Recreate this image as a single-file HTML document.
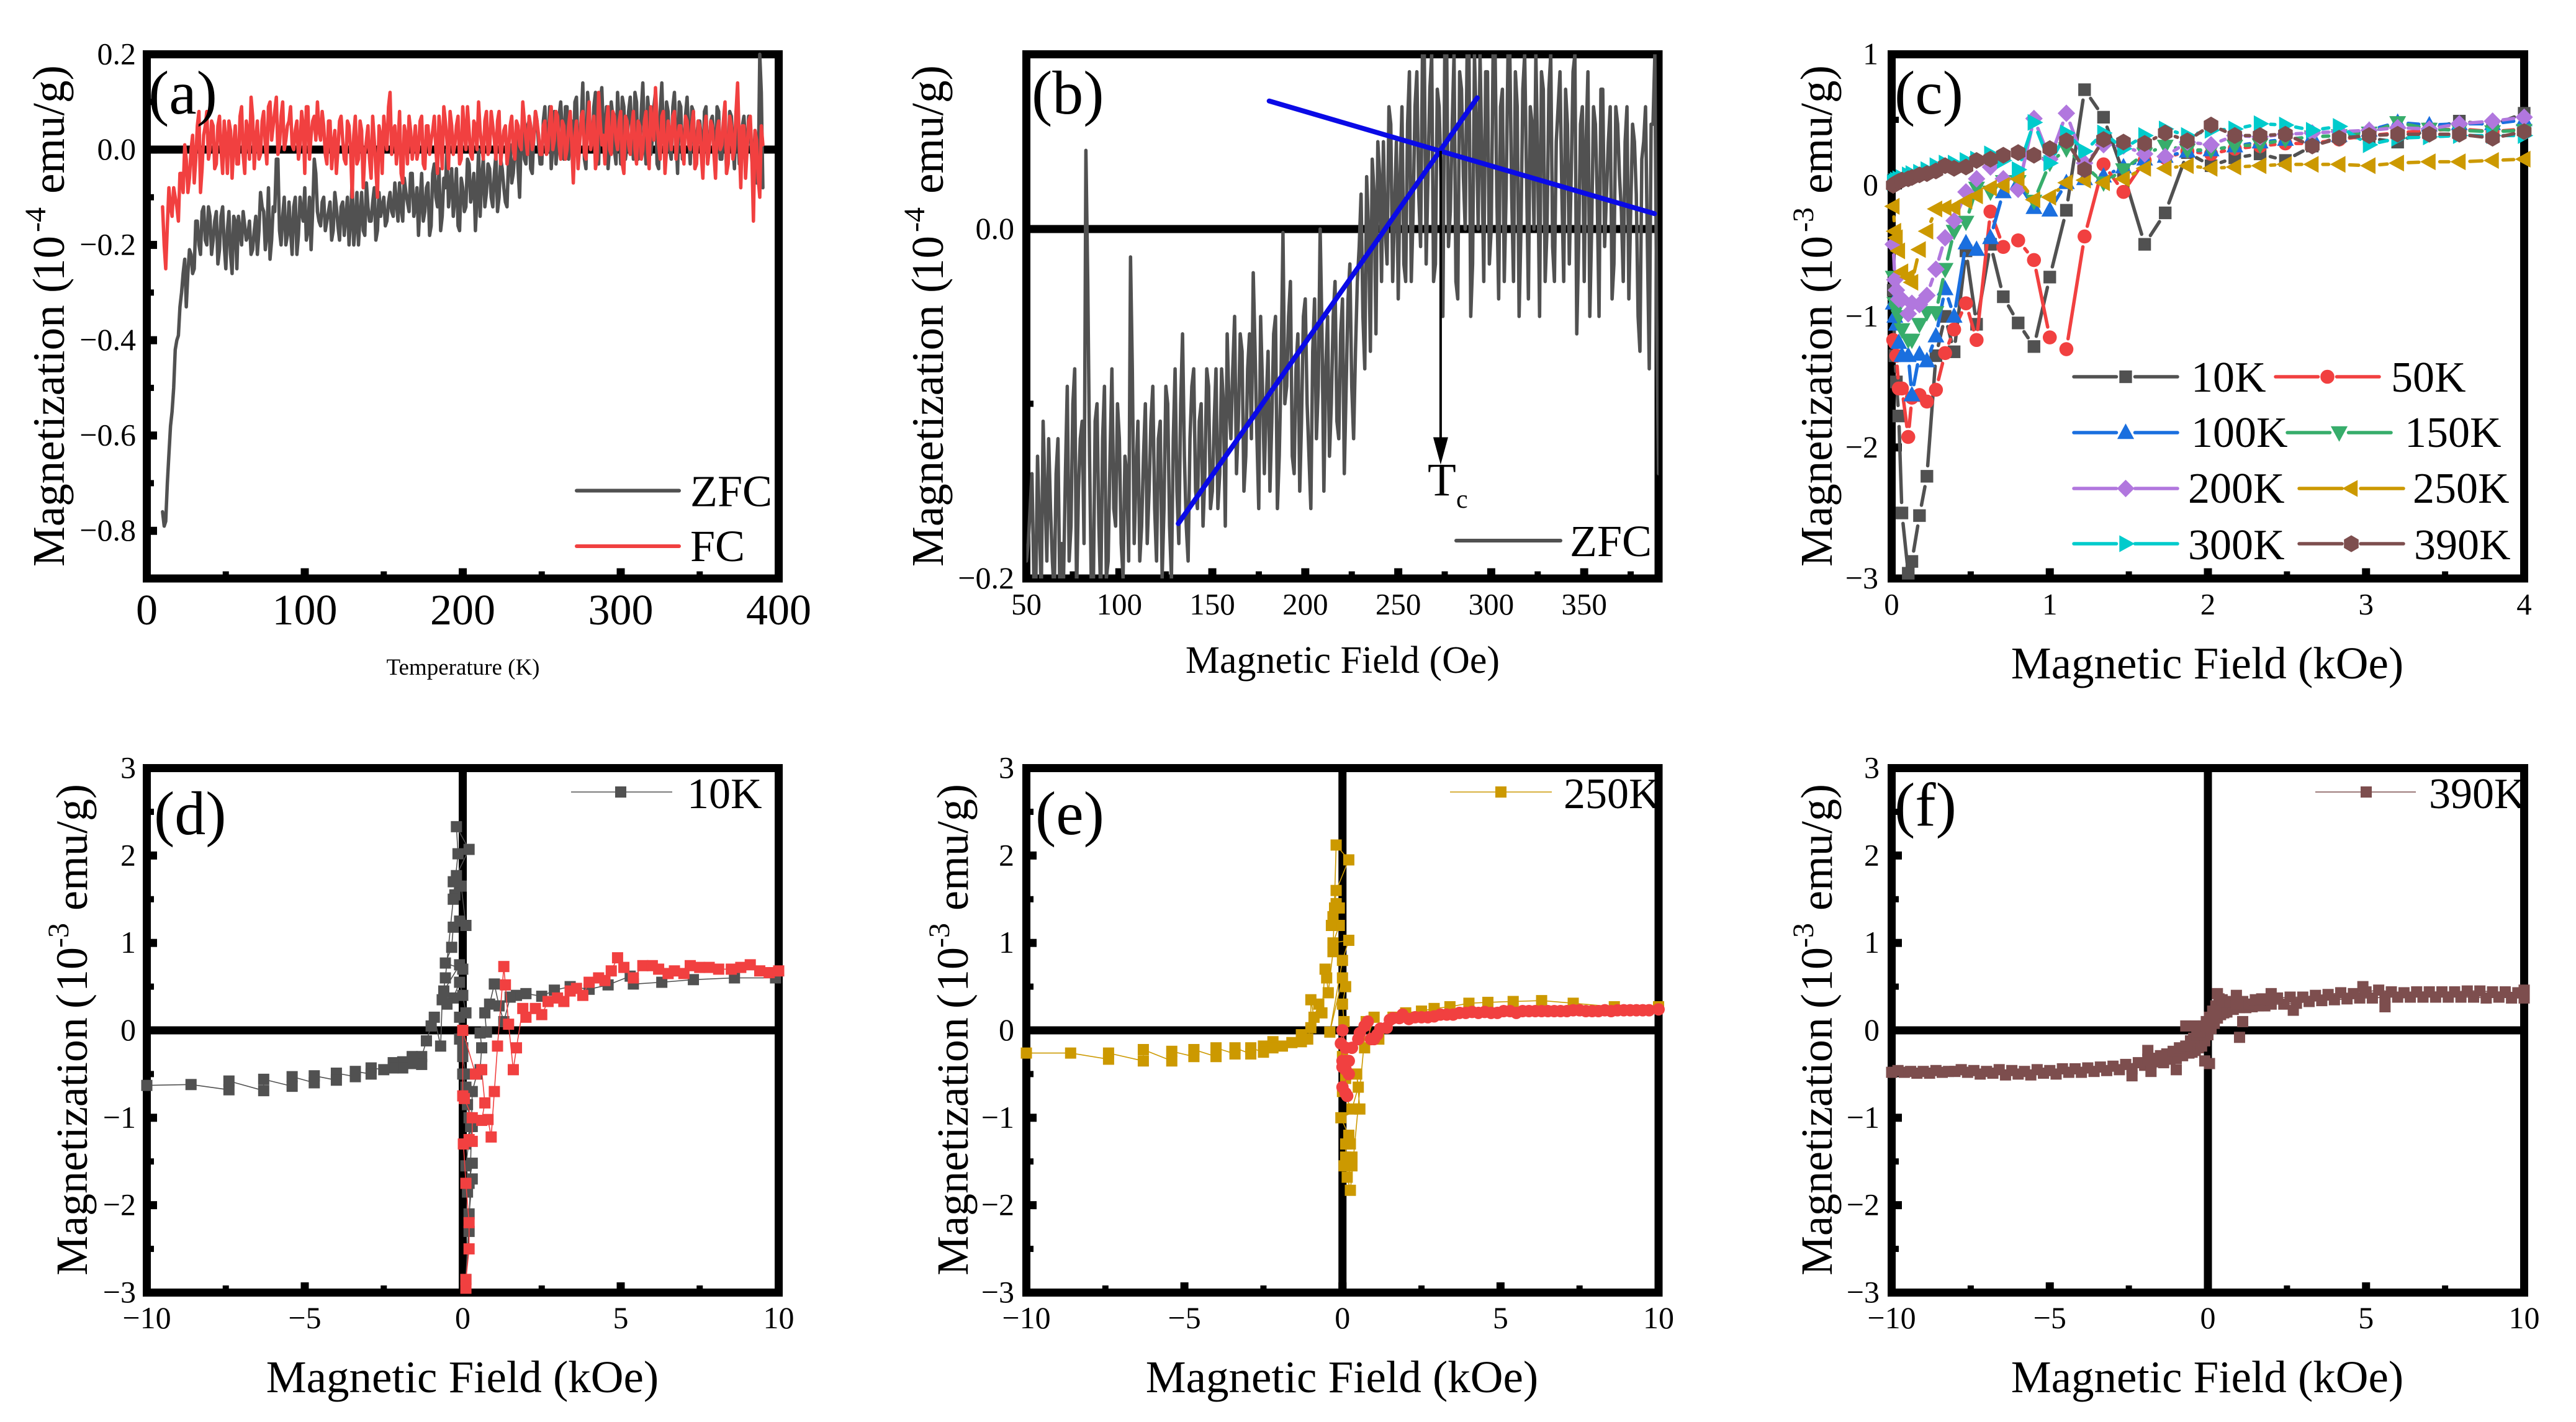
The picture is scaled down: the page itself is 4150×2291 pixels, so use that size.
<!DOCTYPE html>
<html lang="en">
<head>
<meta charset="utf-8">
<title>Magnetization measurements</title>
<style>
html,body{margin:0;padding:0;background:#fff;width:4150px;height:2291px;overflow:hidden}
svg{display:block}
text{font-family:"Liberation Serif","Times New Roman",serif;fill:#000}
</style>
</head>
<body>
<svg id="figure" xmlns="http://www.w3.org/2000/svg" width="4150" height="2291" viewBox="0 0 4150 2291">
<rect x="0" y="0" width="4150" height="2291" fill="#fff"/>
<defs>
<clipPath id="clip-b"><rect x="1653.5" y="87.5" width="1018.5" height="844.5"/></clipPath>
</defs>

<g id="panel-a"></g>
<g id="panel-b"></g>
<g id="panel-c"></g>
<g id="panel-d"></g>
<g id="panel-e"></g>
<g id="panel-f"></g>

<g>
<text x="239" y="183" font-size="100">(a)</text>
<text x="1662" y="183" font-size="100">(b)</text>
<text x="3052" y="183" font-size="100">(c)</text>
<text x="248" y="1344" font-size="100">(d)</text>
<text x="1668" y="1344" font-size="100">(e)</text>
<text x="3052" y="1330" font-size="100">(f)</text>

<text x="746" y="1087" font-size="37" text-anchor="middle">Temperature (K)</text>
<text x="2163" y="1084" font-size="62" text-anchor="middle">Magnetic Field (Oe)</text>
<text x="3556" y="1093" font-size="73" text-anchor="middle">Magnetic Field (kOe)</text>
<text x="745" y="2243" font-size="73" text-anchor="middle">Magnetic Field (kOe)</text>
<text x="2162" y="2243" font-size="73" text-anchor="middle">Magnetic Field (kOe)</text>
<text x="3556" y="2243" font-size="73" text-anchor="middle">Magnetic Field (kOe)</text>

<text transform="translate(103,913) rotate(-90)" font-size="73"><tspan x="0">Magnetization</tspan><tspan x="441">(</tspan><tspan x="460">10</tspan><tspan x="539" dy="-30" font-size="48">-4</tspan><tspan x="601" dy="30">emu/g)</tspan></text>
<text transform="translate(1519,913) rotate(-90)" font-size="73"><tspan x="0">Magnetization</tspan><tspan x="441">(</tspan><tspan x="460">10</tspan><tspan x="539" dy="-30" font-size="48">-4</tspan><tspan x="601" dy="30">emu/g)</tspan></text>
<text transform="translate(2951,913) rotate(-90)" font-size="73"><tspan x="0">Magnetization</tspan><tspan x="441">(</tspan><tspan x="460">10</tspan><tspan x="539" dy="-30" font-size="48">-3</tspan><tspan x="601" dy="30">emu/g)</tspan></text>
<text transform="translate(140,2055) rotate(-90)" font-size="72"><tspan x="0">Magnetization</tspan><tspan x="430">(</tspan><tspan x="457">10</tspan><tspan x="528" dy="-30" font-size="48">-3</tspan><tspan x="588" dy="30">emu/g)</tspan></text>
<text transform="translate(1559,2055) rotate(-90)" font-size="72"><tspan x="0">Magnetization</tspan><tspan x="430">(</tspan><tspan x="457">10</tspan><tspan x="528" dy="-30" font-size="48">-3</tspan><tspan x="588" dy="30">emu/g)</tspan></text>
<text transform="translate(2951,2055) rotate(-90)" font-size="72"><tspan x="0">Magnetization</tspan><tspan x="430">(</tspan><tspan x="457">10</tspan><tspan x="528" dy="-30" font-size="48">-3</tspan><tspan x="588" dy="30">emu/g)</tspan></text>
</g>

<g>
<text x="2300" y="798" font-size="75">T</text>
<text x="2346" y="818" font-size="42">c</text>
</g>
</svg>

<script>
/* ---------- panel (a): ZFC / FC temperature sweeps (1 K spacing, even and odd K readings) ---------- */
const aTempStart = 10;
const aTempStep = 1;
const aZfcEven = [
-.76,-.78,-.64,-.55,-.42,-.39,-.30,-.23,-.26,-.22,
-.25,-.15,-.22,-.12,-.20,-.14,-.19,-.13,-.21,-.12,
-.25,-.13,-.26,-.15,-.14,-.20,-.16,-.18,-.22,-.17,
-.22,-.09,-.13,-.18,-.23,-.12,-.02,-.17,-.14,-.20,
-.11,-.22,-.10,-.18,-.13,-.08,-.17,-.21,-.02,-.13,
-.16,-.10,-.15,-.11,-.17,-.12,-.19,-.11,-.14,-.20,
-.06,-.16,-.20,-.09,-.18,-.12,-.15,-.08,-.17,-.14,
-.10,-.15,-.09,-.14,-.11,-.07,-.15,-.09,-.13,-.05,
-.12,-.18,-.05,-.13,-.07,-.16,-.03,-.12,-.17,-.06,
0,-.08,-.14,-.04,-.17,-.08,-.12,-.03,-.09,-.17,
0,-.06,-.12,-.03,-.10,-.05,-.13,-.02,-.08,-.12,
.01,-.05,.03,-.10,.04,-.03,.06,-.05,.08,.01,
-.03,.09,.02,-.04,.08,.01,.10,-.02,.09,.03,
-.03,.11,.02,.14,-.04,.08,.01,.12,-.03,.13,
.02,-.04,.10,0,.12,-.03,.09,.01,.11,-.02,
.10,0,.14,-.03,.07,.02,.12,-.04,.14,.01,
.08,-.02,.12,-.05,.09,0,.11,-.03,.08,.02,
.06,-.04,.09,.01,.07,-.05,.08,-.02,.06,0,
.07,-.04,.06,-.02,.07,0,.04,-.05,-.07,.20,
-.08
];
const aZfcOdd = [
-.79,-.70,-.58,-.50,-.40,-.33,-.26,-.33,-.21,-.26,
-.15,-.20,-.13,-.19,-.12,-.22,-.15,-.24,-.14,-.20,
-.17,-.22,-.14,-.25,-.17,-.13,-.19,-.15,-.21,-.14,
-.17,-.12,-.21,-.08,-.19,-.13,-.02,-.20,-.10,-.18,
-.17,-.12,-.22,-.10,-.15,-.19,-.10,-.13,-.05,-.15,
-.11,-.17,-.13,-.19,-.09,-.16,-.12,-.18,-.10,-.15,
-.20,-.09,-.14,-.17,-.07,-.15,-.11,-.19,-.09,-.12,
-.16,-.11,-.13,-.07,-.15,-.12,-.06,-.11,-.05,-.14,
-.08,-.11,-.15,-.08,-.18,-.05,-.10,-.04,-.14,-.08,
-.12,-.04,-.10,-.16,-.06,-.13,-.02,-.11,-.05,-.10,
-.14,-.02,-.09,-.04,-.12,-.01,-.10,-.04,-.11,-.02,
-.07,0,-.04,.03,-.02,.05,-.04,.03,.06,-.03,
.06,0,.09,.01,-.03,.07,.04,.09,-.02,.06,
.10,0,.06,-.02,.12,.02,.09,-.02,.10,.04,
.09,.01,.07,-.03,.05,.11,-.02,.08,.04,.12,
-.02,.08,.03,.11,-.01,.09,-.03,.08,.03,.10,
0,.09,.03,.10,-.02,.07,.03,.09,-.04,.06,
.02,.08,-.03,.06,.02,.09,-.02,.05,-.05,.08,
.01,.08,-.03,.05,.01,.07,-.02,.04,-.07,.12
];
const aFcEven = [
-.12,-.25,-.08,-.14,-.10,-.15,-.05,.01,-.09,0,
-.07,.05,-.09,.03,.08,0,.05,-.03,.07,-.05,
.02,.06,-.06,.05,-.03,.09,-.05,.04,.11,-.04,
.06,-.01,.08,-.03,.10,.05,.11,.01,.10,.02,
.06,.01,.04,-.02,.08,-.05,.09,.03,.07,.10,
.02,.05,-.03,.06,.01,-.05,.06,.02,-.03,.05,
-.10,.07,-.02,.04,-.01,.05,-.06,.02,-.10,.03,
.07,0,.12,.04,-.03,.08,-.07,.03,.07,-.02,
.05,0,.07,-.04,.05,.02,.07,-.05,.03,.09,
.02,.08,-.01,.05,-.03,.09,0,.04,-.02,.05,
.10,.01,.06,-.01,.08,.02,.06,-.03,.04,-.03,
.05,0,.06,.01,.10,.02,.07,0,.08,.03,
-.01,.06,0,.09,.02,.07,-.02,.05,0,.08,
-.07,.06,.01,.08,-.02,.10,.03,-.04,.12,.01,
-.03,.09,-.01,.07,0,.08,-.05,.06,-.01,.08,
-.03,.05,0,.08,-.04,.05,.13,.01,.07,-.05,
.06,0,.08,.02,.05,-.03,.06,0,.08,-.03,
.05,-.06,.07,0,.05,-.06,.06,.01,.10,-.03,
.05,0,.14,-.08,.05,0,.07,-.15,.02,-.10,
.01
];
const aFcOdd = [
-.20,-.16,-.12,-.08,-.12,-.05,-.09,-.02,-.06,.03,
-.02,.08,-.04,.05,-.02,.06,-.04,.05,0,.06,
-.05,.04,.01,-.03,.07,-.01,.06,-.02,.07,.02,
-.02,.06,.01,.09,.02,.08,-.01,.07,0,.05,
.09,0,.06,.01,.05,.09,-.02,.06,.02,.04,
.08,-.01,.06,-.04,.04,0,.07,-.02,.06,0,
.03,-.03,.06,-.08,.02,-.02,.07,-.04,.05,-.05,
.03,.09,-.01,.05,.01,-.05,.05,-.03,.04,.01,
-.02,.06,-.03,.05,-.01,.04,0,.07,-.04,.06,
-.04,.05,.01,.07,-.02,.04,.09,-.01,.06,0,
.04,-.02,.08,0,.05,-.02,.08,.01,.05,0,
.07,-.02,.05,0,.06,-.01,.05,.02,.06,-.01,
.05,-.01,.06,0,.08,.01,.06,-.02,.05,.01,
.03,-.04,.07,-.01,.05,0,.07,-.02,.06,.03,
.05,0,.08,.02,.06,-.03,.07,.01,.05,0,
.06,-.02,.06,0,.09,.02,.06,-.02,.08,0,
.04,.07,-.02,.05,0,.07,.01,.05,-.04,.06,
-.01,.04,-.03,.06,-.01,.04,0,.06,-.05,.07,
-.02,.08,.02,.05,-.06,.06,-.01,.04,-.06,.05
];
const aXTicks = [0,100,200,300,400];
const aXMinor = [50,150,250,350];
const aYTicks = [-0.8,-0.6,-0.4,-0.2,0,0.2];
const aYMinor = [-0.7,-0.5,-0.3,-0.1,0.1];

/* ---------- panel (b): ZFC close-up with Tc construction ---------- */
const bFieldStart = 50;
const bFieldStep = 1;
const bZfcEven = [
-.19,-.16,-.20,-.13,-.21,-.15,-.12,-.19,-.14,-.21,
-.20,-.09,-.17,-.08,-.15,-.11,.045,-.13,-.21,-.10,
-.21,-.09,-.19,-.08,-.17,-.12,-.20,-.14,-.016,-.18,
-.11,-.17,-.10,-.15,-.09,-.19,-.11,-.16,-.10,-.20,
-.08,-.18,-.06,-.17,-.12,-.08,-.16,-.10,-.14,-.09,
-.15,-.08,-.14,-.10,-.06,-.12,-.05,-.11,-.07,-.13,
-.06,-.025,-.12,-.05,-.14,-.07,-.11,-.05,-.13,-.002,
-.09,-.03,-.14,-.06,-.11,-.04,-.13,-.07,-.12,0,
-.15,-.05,-.10,-.03,-.12,-.04,-.09,-.02,-.12,-.03,
.02,-.08,0,.04,-.06,.03,.05,-.02,.06,.01,
-.04,.07,-.03,.09,.01,.09,-.01,.10,.03,.10,
-.02,.07,-.05,.11,.01,.10,-.04,.08,0,.11,
-.02,.06,.10,-.03,.09,0,.11,-.04,.08,.02,
.10,-.03,.07,0,.10,-.04,.06,.10,-.05,.08,
0,.10,-.03,.07,.02,.08,-.02,.09,-.06,.06,
-.03,.09,0,.06,-.05,.08,.02,.07,-.02,.06,
.01,.05,-.04,.06,.02,-.07,.05,-.01,.06,.10,
-.14
];
const bZfcOdd = [
-.18,-.14,-.21,-.17,-.11,-.19,-.16,-.21,-.12,-.18,
-.14,-.19,-.10,-.21,-.12,-.18,-.03,-.21,-.11,-.17,
-.12,-.20,-.13,-.16,-.10,-.18,-.13,-.19,-.08,-.14,
-.19,-.13,-.18,-.11,-.16,-.12,-.20,-.09,-.17,-.12,
-.15,-.10,-.13,-.19,-.09,-.15,-.11,-.17,-.08,-.16,
-.11,-.16,-.08,-.17,-.10,-.08,-.14,-.06,-.15,-.08,
-.12,-.07,-.16,-.09,-.10,-.15,-.06,-.16,-.08,-.10,
-.05,-.13,-.08,-.15,-.05,-.10,-.16,-.04,-.09,-.06,
-.08,-.13,-.05,-.11,-.06,-.14,-.04,-.09,-.07,-.01,
-.05,.03,-.07,.02,.05,-.03,0,.07,-.03,.05,
.03,-.02,.06,-.03,.07,.02,.10,-.02,.08,-.03,
.08,.03,.10,-.01,.06,-.03,.09,.03,.10,-.05,
.10,0,.04,.09,-.02,.10,.02,.07,-.03,.10,
.02,.09,-.05,.08,.03,.07,0,.04,.09,-.03,
.08,-.01,.05,.09,-.03,.06,.03,.10,-.01,.07,
.05,-.05,.07,.02,.08,-.01,.05,-.04,.07,.03,
-.03,.07,.01,.05,-.05,.04,.07,-.08,.06,-.05
];
const bFitLowX = [131.7,292.5];
const bFitLowY = [-0.1686,0.0751];
const bFitHighX = [180.6,387.8];
const bFitHighY = [0.0733,0.0088];
const bTc = 272.8;
const bArrowStart = 0.0447;
const bArrowTip = -0.1348;
const bXTicks = [50,100,150,200,250,300,350];
const bXMinor = [75,125,175,225,275,325,375];
const bYTicks = [-0.2,0];
const bYMinor = [-0.1];

/* ---------- panel (c): low-field M(H) at eight temperatures ---------- */
const cField = [.01,.02,.03,.045,.065,.105,.128,.176,.223,.28,.338,.395,.47,.537,.625,.706,.80,.90,1.0,1.105,1.22,1.34,1.466,1.6,1.73,1.87,2.02,2.17,2.33,2.49,2.66,2.83,3.02,3.2,3.4,3.59,3.8,4.0];
const c10K = [-.8,-1.3,-1.5,-1.76,-2.5,-2.96,-2.87,-2.52,-2.22,-1.3,-1.0,-1.27,-.5,-1.06,-.45,-.85,-1.05,-1.23,-.7,-.19,.73,.52,.09,-.45,-.21,.25,.15,.21,.24,.19,.3,.37,.36,.33,.43,.49,.46,.55];
const c50K = [-1.18,-1.2,-1.3,-1.55,-1.55,-1.92,-1.62,-1.6,-1.65,-1.56,-1.28,-1.1,-.9,-1.18,-.2,-.47,-.42,-.57,-1.16,-1.25,-.39,.16,-.05,.19,.21,.26,.24,.28,.3,.32,.32,.35,.38,.4,.42,.43,.41,.43];
const c100K = [-.9,-1.0,-1.06,-1.2,-1.3,-1.3,-1.6,-1.29,-1.34,-1.15,-.79,-1.0,-.44,-.49,-.4,-.05,.02,-.17,-.19,.02,.05,.07,.14,.2,.22,.26,.27,.3,.33,.35,.37,.38,.42,.48,.46,.47,.47,.5];
const c150K = [-.7,-.9,-.95,-1.0,-1.1,-1.18,-1.18,-1.06,-.97,-.97,-.64,-.35,-.28,-.02,-.05,.03,.03,-.12,.17,.28,.15,.02,.12,.24,.3,.27,.27,.3,.31,.35,.37,.38,.4,.48,.43,.42,.41,.42];
const c200K = [-.45,-.72,-.8,-.87,-.87,-.98,-.9,-.91,-.84,-.64,-.4,-.27,-.05,.05,.14,.05,-.03,.51,.2,.55,.17,.31,.3,.24,.22,.33,.31,.38,.37,.39,.4,.41,.42,.44,.43,.47,.49,.52];
const c250K = [-.16,-.35,-.4,-.5,-.66,-.7,-.74,-.49,-.35,-.18,-.17,-.17,-.12,-.08,-.02,0,.05,-.11,-.09,.02,.04,.02,.05,.13,.13,.15,.13,.14,.15,.16,.16,.16,.15,.17,.18,.18,.19,.2];
const c300K = [.02,.03,.04,.05,.06,.08,.09,.1,.12,.15,.17,.17,.19,.2,.24,.19,.12,.48,.17,.4,.26,.4,.28,.38,.43,.38,.42,.43,.47,.46,.42,.45,.31,.36,.37,.38,.38,.38];
const c390K = [0,.01,.02,.03,.04,.05,.06,.08,.09,.11,.15,.13,.14,.19,.2,.23,.25,.23,.28,.34,.12,.35,.33,.32,.4,.34,.46,.38,.38,.39,.3,.36,.38,.39,.39,.39,.36,.41];
const cXTicks = [0,1,2,3,4];
const cXMinor = [.5,1.5,2.5,3.5];
const cYTicks = [-3,-2,-1,0,1];
const cYMinor = [-2.5,-1.5,-.5,.5];

/* ---------- panels (d)-(f): full hysteresis loops ---------- */
const hXTicks = [-10,-5,0,5,10];
const hXMinor = [-7.5,-2.5,2.5,7.5];
const hYTicks = [-3,-2,-1,0,1,2,3];
const hYMinor = [-2.5,-1.5,-.5,.5,1.5,2.5];

const dGrayField = [9.9,8.6,7.3,6.3,5.4,5.3,4.6,4,3.4,2.9,2.5,2,1.7,1.5,1.3,1.15,1,.85,.7,.75,.55,.6,.55,.45,.3,.2,.1,.2,.3,.15,.3,.2,.1,.25,.1,.3,.2,.15,.1,0,.1,0,0,-.1,-.1,.1,0,-.1,-.3,-.5,-.6,-.1,0,-.55,-.35,-.3,-.1,.1,-.05,-.25,-.2,-.3,.2,-.2,-.15,-.3,-.55,-.65,-.7,-.9,-1,-1.15,-1.3,-1.3,-1.6,-1.6,-1.9,-1.9,-2.2,-2.2,-2.5,-2.9,-2.9,-3.4,-3.4,-4,-4,-4.7,-4.7,-5.4,-5.4,-6.3,-6.3,-7.4,-7.4,-8.6,-10];
const dGrayMoment = [.6,.6,.58,.55,.53,.62,.52,.47,.5,.46,.39,.42,.4,.38,.1,.28,.53,.3,.2,-.02,-.03,-.2,-.45,-.5,-.7,-2.3,-2.85,-2.1,-1.7,-1.85,-1.52,-1.75,-1.55,-1.1,-1.3,-1.1,-1,-.85,-.65,-.5,-.5,-.3,-.2,-.1,.15,.2,.4,.55,.37,.3,.45,.75,.7,.77,.95,1.18,1.25,1.2,1.65,1.55,1.77,1.7,2.07,2.33,2.02,1.5,.6,.35,-.18,.15,.05,-.12,-.3,-.39,-.3,-.38,-.36,-.43,-.37,-.43,-.45,-.43,-.5,-.47,-.53,-.49,-.57,-.52,-.6,-.53,-.64,-.56,-.69,-.58,-.68,-.62,-.63];
const dRedField = [.1,.1,.2,.2,.1,.02,.2,.3,.3,.05,0,0,.4,.6,.7,.6,.8,.9,1.0,1.1,1.3,1.35,1.45,1.6,1.7,1.9,2.0,2.3,2.5,2.7,3.0,3.2,3.4,3.6,3.8,4.0,4.3,4.5,4.7,4.9,5.1,5.4,5.7,6,6.2,6.5,6.7,7,7.2,7.5,7.8,8.1,8.5,8.8,9.1,9.4,9.7,10];
const dRedMoment = [-2.95,-2.85,-2.5,-2.2,-1.75,-1.3,-1.25,-1.27,-1,-.78,-.75,0,-.5,-.45,-.83,-1.03,-1.02,-1.22,-.7,-.18,.73,.52,.07,-.45,-.2,.25,.15,.25,.18,.33,.37,.33,.45,.48,.4,.55,.6,.57,.68,.83,.72,.6,.74,.74,.7,.65,.68,.65,.74,.72,.72,.7,.7,.72,.75,.68,.66,.68];

const eGoldField = [10,8.6,7.3,6.3,5.4,4.6,4,3.4,2.9,2.5,2,1.6,1.15,.7,1,.75,.25,.15,.3,.05,.3,.1,.1,.25,.2,-.05,.55,.45,.5,.3,0,.1,0,.05,0,.1,0,-.4,0,.2,-.3,-.1,-.35,-.3,-.1,-.2,-.25,-.2,.2,-.2,-.3,-.45,-.5,-.55,-.65,-.75,-.9,-1,-1,-1.1,-1.3,-1.3,-1.6,-1.9,-2.2,-2.2,-2.5,-2.5,-2.9,-2.9,-3.4,-3.4,-4,-4,-4.7,-4.7,-5.4,-5.4,-6.3,-6.3,-7.4,-7.4,-8.6,-10];
const eGoldMoment = [.27,.27,.31,.34,.33,.32,.31,.27,.25,.22,.2,.15,-.1,-.2,.15,.1,-1.83,-1.68,-1.55,-1.55,-1.45,-1.45,-1.3,-1.3,-1.2,-1,-.9,-.5,-.65,-.9,-.7,-.55,-.3,.1,.3,.5,.6,-.02,.8,1.03,1,1.2,1.2,1.3,1.4,1.45,1.4,1.6,1.95,2.12,.9,.43,.6,.7,.2,.3,.15,.35,.03,-.1,-.05,-.13,-.14,-.18,-.13,-.2,-.18,-.25,-.2,-.27,-.2,-.27,-.2,-.3,-.22,-.3,-.24,-.35,-.22,-.35,-.26,-.33,-.26,-.26];
const eRedField = [.15,.1,0,.2,.1,0,.2,.1,0,-.05,0,.1,.3,.5,.55,.7,.8,.9,1.0,1.1,1.2,1.4,1.5,1.6,1.8,1.9,2.1,2.3,2.5,2.7,2.9,3.1,3.3,3.5,3.7,3.9,4.1,4.3,4.5,4.7,4.9,5.1,5.3,5.5,5.7,5.9,6.1,6.3,6.5,6.7,6.9,7.1,7.3,7.5,7.7,7.9,8.1,8.3,8.5,8.7,8.9,9.1,9.3,9.5,9.7,10];
const eRedMoment = [-.75,-.72,-.65,-.5,-.45,-.42,-.35,-.35,-.35,-.15,0,-.2,-.2,-.1,-.03,.05,.1,-.1,-.1,-.05,.02,.03,.12,.14,.14,.18,.13,.15,.15,.15,.16,.18,.18,.18,.2,.2,.21,.2,.21,.2,.2,.22,.22,.2,.22,.22,.22,.22,.22,.22,.22,.22,.23,.23,.22,.22,.22,.23,.22,.23,.23,.23,.23,.23,.23,.24];

const fFieldUp = [-10,-9.6,-9.2,-8.8,-8.4,-8,-7.6,-7.2,-6.8,-6.4,-6,-5.6,-5.2,-4.8,-4.4,-4,-3.6,-3.2,-2.8,-2.4,-2,-1.8,-1.6,-1.4,-1.2,-1,-.8,-.6,-.5,-.4,-.3,-.2,-.1,0,.1,.2,.3,.4,.5,.6,.8,1,1.2,1.4,1.6,1.8,2,2.4,2.8,3.2,3.6,4,4.4,4.8,5.2,5.6,6,6.4,6.8,7.2,7.6,8,8.4,8.8,9.2,9.6,10];
const fMomentUp = [-.48,-.48,-.49,-.49,-.48,-.47,-.48,-.50,-.49,-.51,-.50,-.51,-.49,-.50,-.48,-.48,-.47,-.46,-.45,-.44,-.40,-.38,-.36,-.37,-.33,-.32,-.29,-.26,-.25,-.23,-.20,-.18,-.12,-.05,.02,.08,.14,.18,.20,.21,.24,.26,.26,.27,.28,.28,.30,.30,.31,.33,.34,.35,.36,.37,.37,.38,.38,.38,.38,.38,.38,.38,.38,.37,.38,.37,.37];
const fFieldDown = [-9.8,-9.4,-9,-8.6,-8.2,-7.8,-7.4,-7,-6.6,-6.2,-5.8,-5.4,-5,-4.6,-4.2,-3.8,-3.4,-3,-2.6,-2.2,-1.9,-1.7,-1.5,-1.3,-1.1,-.9,-.7,-.55,-.45,-.35,-.25,-.15,-.05,.05,.15,.25,.35,.45,.55,.7,.9,1.1,1.3,1.5,1.7,1.9,2.2,2.6,3,3.4,3.8,4.2,4.6,5,5.4,5.8,6.2,6.6,7,7.4,7.8,8.2,8.6,9,9.4,9.8,10];
const fMomentDown = [-.46,-.47,-.47,-.46,-.47,-.45,-.46,-.47,-.45,-.46,-.47,-.45,-.46,-.44,-.44,-.43,-.42,-.41,-.39,-.37,-.33,-.32,-.29,-.27,-.24,-.20,-.18,-.12,-.09,-.05,-.02,.05,.10,.15,.22,.28,.36,.35,.32,.33,.30,.33,.30,.35,.36,.35,.37,.38,.38,.40,.41,.43,.42,.44,.46,.44,.43,.44,.44,.44,.44,.45,.45,.44,.44,.43,.46];
const fOutlierField = [-2.4,-1.9,-1.8,-1,-.7,-.4,-.1,.05,.3,.9,1.1,1.0,2,2.7,4.9,5.6];
const fOutlierMoment = [-.52,-.23,-.47,-.45,.05,.05,-.35,-.38,.42,.4,.1,-.08,.42,.23,.5,.27];

/* ---------- palette ---------- */
const GRAY='#515151',RED='#f14040',BLUE='#1a6fdf',GREEN='#37ad6b',PURPLE='#b177de',GOLD='#cc9900',CYAN='#00cbcc',BROWN='#7d4e4e';

/* ---------- helpers ---------- */
const NS='http://www.w3.org/2000/svg';
function mk(parent,tag,attrs,name){
  const el=document.createElementNS(NS,tag);
  for(const k in attrs){el.setAttribute(k,attrs[k]);}
  
  
  parent.appendChild(el);
  return el;
}
function scale(d0,d1,r0,r1){return v=>r0+(v-d0)*(r1-r0)/(d1-d0);}
function interleave(even,odd){
  const out=[];
  even.forEach((v,i)=>{
    out.push(v);
    if(i<odd.length){out.push(odd[i]);}
  });
  return out;
}
function fmt(v,dec){
  const s=Math.abs(v).toFixed(dec);
  return (v<0?'\u2212':'')+s;
}
function axes(g,box,x,y,o){
  const hw=6.5;
  const axis=mk(g,'g',{},o.id+'-axes');
  mk(axis,'rect',{x:box.l,y:box.t,width:box.r-box.l,height:box.b-box.t,fill:'none',stroke:'#000','stroke-width':13},o.id+'-frame');
  o.xMajor.forEach(v=>{
    mk(axis,'rect',{x:x(v)-6.5,y:box.b-hw-10,width:13,height:10,fill:'#000'},o.id+'-x-major-tick');
  });
  o.xMinor.forEach(v=>{
    mk(axis,'rect',{x:x(v)-5,y:box.b-hw-5,width:10,height:5,fill:'#000'},o.id+'-x-minor-tick');
  });
  o.yMajor.forEach(v=>{
    mk(axis,'rect',{x:box.l+hw,y:y(v)-6.5,width:10,height:13,fill:'#000'},o.id+'-y-major-tick');
  });
  o.yMinor.forEach(v=>{
    mk(axis,'rect',{x:box.l+hw,y:y(v)-5,width:5,height:10,fill:'#000'},o.id+'-y-minor-tick');
  });
  o.xMajor.forEach(v=>{
    const t=mk(axis,'text',{x:x(v),y:o.xBase,'font-size':o.xSize,'text-anchor':'middle'},o.id+'-x-tick-label');
    t.textContent=fmt(v,0);
  });
  o.yMajor.forEach(v=>{
    const t=mk(axis,'text',{x:o.yRight,y:y(v)+16,'font-size':50,'text-anchor':'end'},o.id+'-y-tick-label');
    t.textContent=fmt(v,o.yDec);
  });
  if(o.zeroY){
    mk(axis,'line',{x1:box.l,x2:box.r,y1:y(0),y2:y(0),stroke:'#000','stroke-width':13},o.id+'-zero-line-horizontal');
  }
  if(o.zeroX){
    mk(axis,'line',{x1:x(0),x2:x(0),y1:box.t,y2:box.b,stroke:'#000','stroke-width':13},o.id+'-zero-line-vertical');
  }
}
function polyline(g,xs,ys,x,y,color,width,name,clip){
  const pts=xs.map((v,i)=>x(v).toFixed(1)+','+y(ys[i]).toFixed(1)).join(' ');
  const attrs={points:pts,fill:'none',stroke:color,'stroke-width':width,'stroke-linejoin':'round','stroke-linecap':'round'};
  if(clip){attrs['clip-path']='url(#'+clip+')';}
  return mk(g,'polyline',attrs,name);
}
function marker(g,shape,cx,cy,color,name,k){
  const m=k||1;
  if(shape==='square'){return mk(g,'rect',{x:cx-9*m,y:cy-9*m,width:18*m,height:18*m,fill:color},name);}
  if(shape==='circle'){return mk(g,'circle',{cx:cx,cy:cy,r:10*m,fill:color},name);}
  const offsets={
    up:[[0,-13],[-12,9],[12,9]],
    down:[[0,13],[-12,-9],[12,-9]],
    left:[[-13,0],[9,-12],[9,12]],
    right:[[13,0],[-9,-12],[-9,12]],
    diamond:[[0,-12.5],[12.5,0],[0,12.5],[-12.5,0]],
    hexagon:[[0,-12],[10.4,-6],[10.4,6],[0,12],[-10.4,6],[-10.4,-6]]
  }[shape];
  const pts=offsets.map(p=>(cx+p[0]*m).toFixed(1)+','+(cy+p[1]*m).toFixed(1)).join(' ');
  return mk(g,'polygon',{points:pts,fill:color},name);
}
function gappedLine(g,x0,y0,x1,y1,color,gap,name){
  const dx=x1-x0,dy=y1-y0,len=Math.hypot(dx,dy);
  if(len<=2*gap+1){return;}
  const ux=dx/len,uy=dy/len;
  mk(g,'line',{x1:x0+ux*gap,y1:y0+uy*gap,x2:x1-ux*gap,y2:y1-uy*gap,stroke:color,'stroke-width':5.5,'stroke-linecap':'round'},name);
}
function lineLegend(g,x0,x1,yLine,text,tx,ty,color,name){
  const e=mk(g,'g',{},name);
  mk(e,'line',{x1:x0,x2:x1,y1:yLine,y2:yLine,stroke:color,'stroke-width':6,'stroke-linecap':'round'},name+'-line');
  const t=mk(e,'text',{x:tx,y:ty,'font-size':72},name+'-label');
  t.textContent=text;
}
function loopSeries(g,xs,ys,x,y,color,shape,name){
  polyline(g,xs,ys,x,y,color,1.6,name+'-line');
  xs.forEach((v,i)=>{
    marker(g,shape,x(v),y(ys[i]),color,name+'-point');
  });
}
function loopPoints(g,xs,ys,x,y,color,shape,name){
  xs.forEach((v,i)=>{
    marker(g,shape,x(v),y(ys[i]),color,name+'-point');
  });
}
function loopLegend(g,x0,x1,yLine,mx,text,tx,ty,color,name){
  const e=mk(g,'g',{},name);
  mk(e,'line',{x1:x0,x2:x1,y1:yLine,y2:yLine,stroke:color,'stroke-width':1.6},name+'-line');
  marker(e,'square',mx,yLine,color,name+'-marker');
  const t=mk(e,'text',{x:tx,y:ty,'font-size':70},name+'-label');
  t.textContent=text;
}

/* ---------- panel a ---------- */
(function(){
  const g=document.getElementById('panel-a');
  const box={l:236.5,r:1254.5,t:87.5,b:932};
  const x=scale(0,400,box.l,box.r), y=scale(-0.9,0.2,box.b,box.t);
  axes(g,box,x,y,{id:'a',xMajor:aXTicks,xMinor:aXMinor,yMajor:aYTicks,yMinor:aYMinor,xBase:1006,xSize:70,yRight:219,yDec:1,zeroY:true});
  const zfc=interleave(aZfcEven,aZfcOdd);
  const fc=interleave(aFcEven,aFcOdd);
  const temps=zfc.map((_,i)=>aTempStart+i*aTempStep);
  const tempsFc=fc.map((_,i)=>aTempStart+i*aTempStep);
  polyline(g,temps,zfc,x,y,GRAY,5.5,'zfc-curve');
  polyline(g,tempsFc,fc,x,y,RED,5.5,'fc-curve');
  lineLegend(g,929,1094,790.5,'ZFC',1112,815.5,GRAY,'a-legend-zfc');
  lineLegend(g,929,1094,880,'FC',1112,904,RED,'a-legend-fc');
})();

/* ---------- panel b ---------- */
(function(){
  const g=document.getElementById('panel-b');
  const box={l:1653.5,r:2672,t:87.5,b:932};
  const x=scale(50,390,box.l,box.r), y=scale(-0.2,0.1,box.b,box.t);
  axes(g,box,x,y,{id:'b',xMajor:bXTicks,xMinor:bXMinor,yMajor:bYTicks,yMinor:bYMinor,xBase:990,xSize:49,yRight:1634,yDec:1,zeroY:true});
  const zfc=interleave(bZfcEven,bZfcOdd);
  const fields=zfc.map((_,i)=>bFieldStart+i*bFieldStep);
  polyline(g,fields,zfc,x,y,GRAY,5.5,'zfc-closeup-curve','clip-b');
  polyline(g,bFitLowX,bFitLowY,x,y,'#0a0ae6',8,'low-temperature-fit-line');
  polyline(g,bFitHighX,bFitHighY,x,y,'#0a0ae6',8,'high-temperature-fit-line');
  const tipY=y(bArrowTip), ax=x(bTc);
  mk(g,'line',{x1:ax,x2:ax,y1:y(bArrowStart),y2:tipY-30,stroke:'#000','stroke-width':4},'tc-arrow-shaft');
  mk(g,'polygon',{points:(ax-12)+','+(tipY-44)+' '+(ax+12)+','+(tipY-44)+' '+ax+','+tipY,fill:'#000'},'tc-arrow-head');
  lineLegend(g,2346,2514,871,'ZFC',2529,896,GRAY,'b-legend-zfc');
})();

/* ---------- panel c ---------- */
(function(){
  const g=document.getElementById('panel-c');
  const box={l:3047.5,r:4066.5,t:87.5,b:932};
  const x=scale(0,4,box.l,box.r), y=scale(-3,1,box.b,box.t);
  axes(g,box,x,y,{id:'c',xMajor:cXTicks,xMinor:cXMinor,yMajor:cYTicks,yMinor:cYMinor,xBase:990,xSize:49,yRight:3026,yDec:0});
  const MK=1.13;
  const series=[
    [c10K,GRAY,'square','10K',3341,3508,3530,607,631],
    [c50K,RED,'circle','50K',3666,3833,3852,607,631],
    [c100K,BLUE,'up','100K',3341,3508,3530,697,720],
    [c150K,GREEN,'down','150K',3685,3852,3874,697,720],
    [c200K,PURPLE,'diamond','200K',3341,3508,3525,787,810],
    [c250K,GOLD,'left','250K',3704,3872,3887,787,810],
    [c300K,CYAN,'right','300K',3341,3508,3525,876,901],
    [c390K,BROWN,'hexagon','390K',3704,3872,3889,876,901]
  ];
  series.forEach(s=>{
    const name='series-'+s[3];
    const grp=mk(g,'g',{},name);
    const vals=s[0];
    for(let i=0;i<vals.length-1;i++){
      gappedLine(grp,x(cField[i]),y(vals[i]),x(cField[i+1]),y(vals[i+1]),s[1],17,name+'-segment');
    }
    vals.forEach((v,i)=>{
      marker(grp,s[2],x(cField[i]),y(v),s[1],name+'-point',MK);
    });
  });
  series.forEach(s=>{
    const name='legend-'+s[3];
    const e=mk(g,'g',{},name);
    const mid=(s[4]+s[5])/2;
    mk(e,'line',{x1:s[4],x2:mid-15,y1:s[7],y2:s[7],stroke:s[1],'stroke-width':5.5,'stroke-linecap':'round'},name+'-line-left');
    mk(e,'line',{x1:mid+15,x2:s[5],y1:s[7],y2:s[7],stroke:s[1],'stroke-width':5.5,'stroke-linecap':'round'},name+'-line-right');
    marker(e,s[2],mid,s[7],s[1],name+'-marker',MK);
    const t=mk(e,'text',{x:s[6],y:s[8],'font-size':70},name+'-label');
    t.textContent=s[3];
  });
})();

/* ---------- panel d ---------- */
(function(){
  const g=document.getElementById('panel-d');
  const box={l:236.5,r:1254.5,t:1237.5,b:2082.5};
  const x=scale(-10,10,box.l,box.r), y=scale(-3,3,box.b,box.t);
  axes(g,box,x,y,{id:'d',xMajor:hXTicks,xMinor:hXMinor,yMajor:hYTicks,yMinor:hYMinor,xBase:2140,xSize:50,yRight:219,yDec:0,zeroY:true,zeroX:true});
  loopSeries(g,dGrayField,dGrayMoment,x,y,GRAY,'square','loop-10k-gray');
  loopSeries(g,dRedField,dRedMoment,x,y,RED,'square','loop-10k-red');
  loopLegend(g,920,1083,1276,1000,'10K',1107,1302,GRAY,'d-legend-10k');
})();

/* ---------- panel e ---------- */
(function(){
  const g=document.getElementById('panel-e');
  const box={l:1653.5,r:2672,t:1237.5,b:2082.5};
  const x=scale(-10,10,box.l,box.r), y=scale(-3,3,box.b,box.t);
  axes(g,box,x,y,{id:'e',xMajor:hXTicks,xMinor:hXMinor,yMajor:hYTicks,yMinor:hYMinor,xBase:2140,xSize:50,yRight:1634,yDec:0,zeroY:true,zeroX:true});
  loopSeries(g,eGoldField,eGoldMoment,x,y,GOLD,'square','loop-250k-gold');
  loopSeries(g,eRedField,eRedMoment,x,y,RED,'circle','loop-250k-red');
  loopLegend(g,2336,2500,1276,2418,'250K',2519,1302,GOLD,'e-legend-250k');
})();

/* ---------- panel f ---------- */
(function(){
  const g=document.getElementById('panel-f');
  const box={l:3047.5,r:4066.5,t:1237.5,b:2082.5};
  const x=scale(-10,10,box.l,box.r), y=scale(-3,3,box.b,box.t);
  axes(g,box,x,y,{id:'f',xMajor:hXTicks,xMinor:hXMinor,yMajor:hYTicks,yMinor:hYMinor,xBase:2140,xSize:50,yRight:3028,yDec:0,zeroY:true,zeroX:true});
  loopSeries(g,fFieldUp,fMomentUp,x,y,BROWN,'square','loop-390k-up');
  loopSeries(g,fFieldDown,fMomentDown,x,y,BROWN,'square','loop-390k-down');
  loopPoints(g,fOutlierField,fOutlierMoment,x,y,BROWN,'square','loop-390k-outliers');
  loopLegend(g,3730,3892,1276,3812,'390K',3913,1302,BROWN,'f-legend-390k');
})();
</script>
</body>
</html>
